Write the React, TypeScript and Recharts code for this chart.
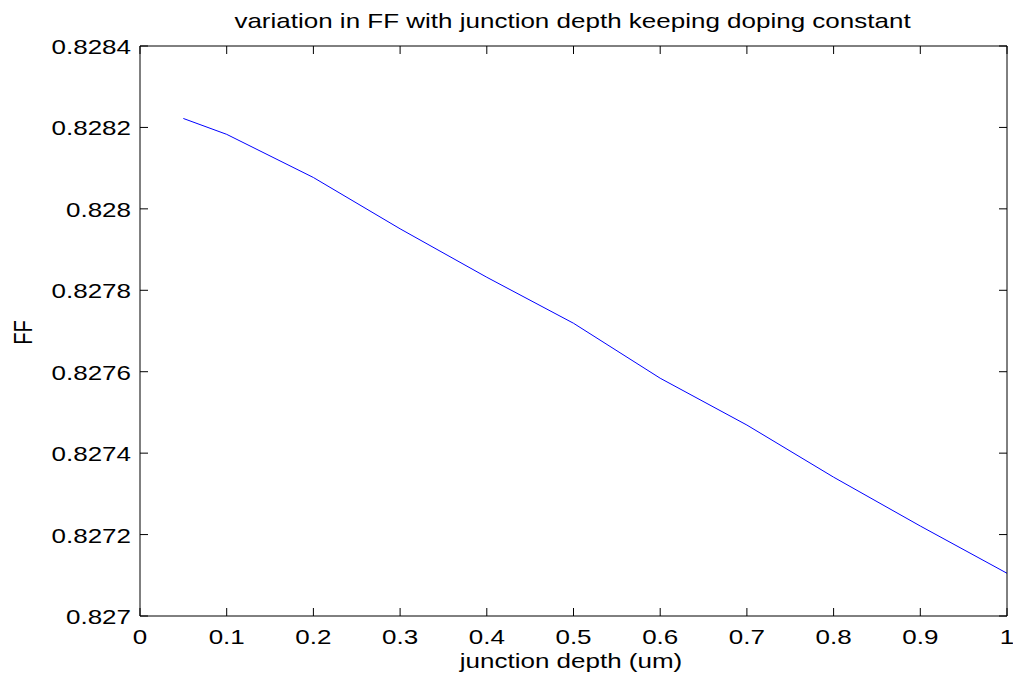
import React from 'react';
import { LineChart, Line, XAxis, YAxis } from 'recharts';

const junctionDepth = [0.05, 0.1, 0.2, 0.3, 0.4, 0.5, 0.6, 0.7, 0.8, 0.9, 1.0];
const ffValues = [0.828222, 0.828183, 0.828077, 0.827951, 0.827832, 0.827719, 0.827584, 0.827469, 0.827341, 0.827221, 0.827105];

const xTicks = [0, 0.1, 0.2, 0.3, 0.4, 0.5, 0.6, 0.7, 0.8, 0.9, 1];
const xTickLabels = ['0', '0.1', '0.2', '0.3', '0.4', '0.5', '0.6', '0.7', '0.8', '0.9', '1'];
const yTicks = [0.827, 0.8272, 0.8274, 0.8276, 0.8278, 0.828, 0.8282, 0.8284];
const yTickLabels = ['0.827', '0.8272', '0.8274', '0.8276', '0.8278', '0.828', '0.8282', '0.8284'];

const titleText = 'variation in FF with junction depth keeping doping constant';
const xLabelText = 'junction depth (um)';
const yLabelText = 'FF';

const data = junctionDepth.map((x, i) => ({ x, ff: ffValues[i] }));

const FONT = '"Liberation Sans", Arial, Helvetica, sans-serif';
const STRETCH = 1.3;

const nearestLabel = (ticks: number[], labels: string[], v: number) => {
  let best = 0;
  for (let i = 1; i < ticks.length; i++) {
    if (Math.abs(ticks[i] - v) < Math.abs(ticks[best] - v)) best = i;
  }
  return labels[best];
};

const XTick = (props: any) => {
  const { x, y, payload } = props;
  return (
    <text
      transform={`translate(${x},${y}) scale(${STRETCH},1)`}
      textAnchor="middle"
      fontSize={20}
      fontFamily={FONT}
      fill="#000"
    >
      {nearestLabel(xTicks, xTickLabels, payload.value)}
    </text>
  );
};

const YTick = (props: any) => {
  const { x, y, payload } = props;
  return (
    <text
      transform={`translate(${x},${y + 8}) scale(${STRETCH},1)`}
      textAnchor="end"
      fontSize={20}
      fontFamily={FONT}
      fill="#000"
    >
      {nearestLabel(yTicks, yTickLabels, payload.value)}
    </text>
  );
};

const EmptyTick = () => <g />;

const AXIS_LINE = { stroke: '#000', strokeWidth: 1 };

export default function App() {
  return (
    <div style={{ position: 'absolute', left: 0, top: 0, width: 1013, height: 678, background: '#fff' }}>
      <LineChart width={1013} height={678} data={data} margin={{ top: 46, right: 6, bottom: 32, left: 0 }}>
        {/* bottom axis with labels */}
        <XAxis
          dataKey="x"
          type="number"
          domain={[0, 1]}
          ticks={xTicks}
          interval={0}
          height={30}
          tickSize={0}
          tickMargin={28}
          tick={<XTick />}
          axisLine={AXIS_LINE}
          tickLine={false}
        />
        {/* bottom inward tick marks */}
        <XAxis
          xAxisId="bticks"
          dataKey="x"
          orientation="bottom"
          mirror
          type="number"
          domain={[0, 1]}
          ticks={xTicks}
          interval={0}
          tickSize={8}
          tick={EmptyTick}
          axisLine={false}
          tickLine={AXIS_LINE}
        />
        {/* top box edge with inward ticks */}
        <XAxis
          xAxisId="top"
          dataKey="x"
          orientation="top"
          mirror
          type="number"
          domain={[0, 1]}
          ticks={xTicks}
          interval={0}
          tickSize={8}
          tick={EmptyTick}
          axisLine={AXIS_LINE}
          tickLine={AXIS_LINE}
        />
        {/* left axis with labels */}
        <YAxis
          type="number"
          domain={[0.827, 0.8284]}
          allowDataOverflow
          ticks={yTicks}
          interval={0}
          width={140}
          tickSize={0}
          tickMargin={9}
          tick={<YTick />}
          axisLine={AXIS_LINE}
          tickLine={false}
        />
        {/* left inward tick marks */}
        <YAxis
          yAxisId="lticks"
          orientation="left"
          mirror
          type="number"
          domain={[0.827, 0.8284]}
          allowDataOverflow
          ticks={yTicks}
          interval={0}
          tickSize={8}
          tick={EmptyTick}
          axisLine={false}
          tickLine={AXIS_LINE}
        />
        {/* right box edge with inward ticks */}
        <YAxis
          yAxisId="right"
          orientation="right"
          mirror
          type="number"
          domain={[0.827, 0.8284]}
          allowDataOverflow
          ticks={yTicks}
          interval={0}
          tickSize={8}
          tick={EmptyTick}
          axisLine={AXIS_LINE}
          tickLine={AXIS_LINE}
        />
        <Line
          xAxisId="bticks"
          yAxisId="lticks"
          type="linear"
          dataKey="ff"
          stroke="none"
          dot={false}
          activeDot={false}
          isAnimationActive={false}
        />
        <Line
          xAxisId="top"
          yAxisId="right"
          type="linear"
          dataKey="ff"
          stroke="none"
          dot={false}
          activeDot={false}
          isAnimationActive={false}
        />
        <Line
          type="linear"
          dataKey="ff"
          stroke="#0000ff"
          strokeWidth={1}
          dot={false}
          activeDot={false}
          isAnimationActive={false}
        />
      </LineChart>
      <svg
        width={1013}
        height={678}
        style={{ position: 'absolute', left: 0, top: 0, pointerEvents: 'none' }}
      >
        <text
          transform={`translate(572.5,28) scale(${STRETCH},1)`}
          textAnchor="middle"
          fontSize={20}
          fontFamily={FONT}
          fill="#000"
        >
          {titleText}
        </text>
        <text
          transform={`translate(571,668) scale(${STRETCH},1)`}
          textAnchor="middle"
          fontSize={20}
          fontFamily={FONT}
          fill="#000"
        >
          {xLabelText}
        </text>
        <text
          transform={`translate(31.7,332.5) scale(${STRETCH},1) rotate(-90)`}
          textAnchor="middle"
          fontSize={20}
          fontFamily={FONT}
          fill="#000"
        >
          {yLabelText}
        </text>
      </svg>
    </div>
  );
}
